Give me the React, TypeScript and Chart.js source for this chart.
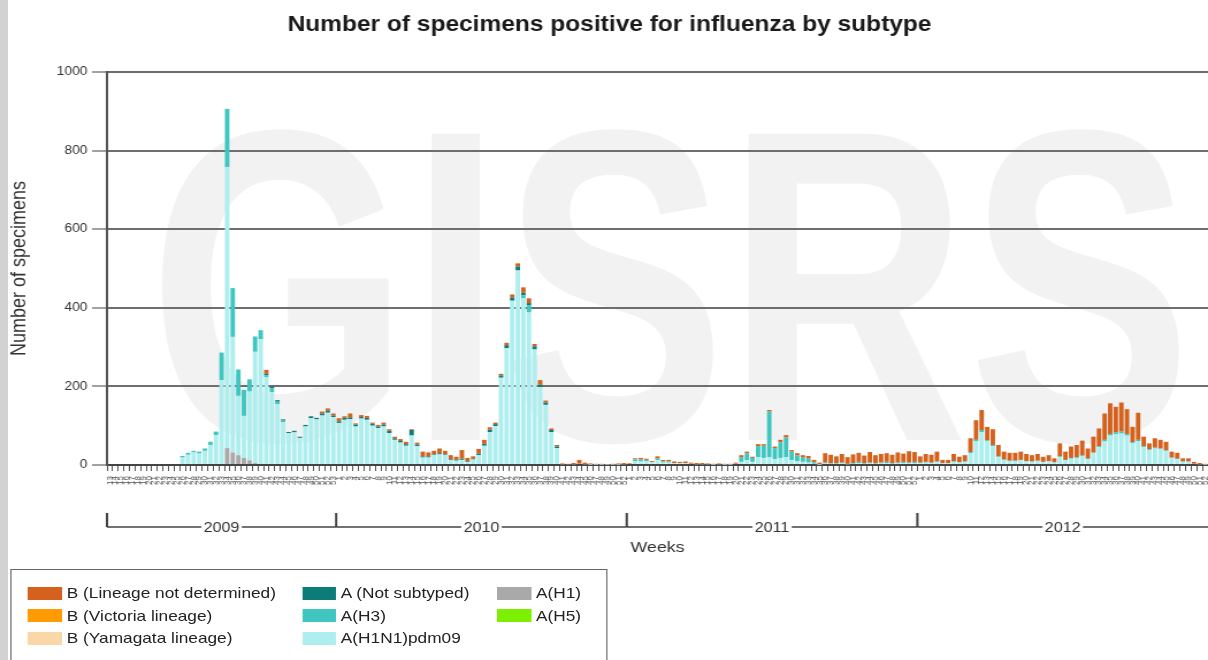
import React, { useEffect, useRef } from "react";
import { Chart, registerables } from "chart.js";

Chart.register(...registerables);

// ---------------- DATA ----------------
const years = ["2009", "2010", "2011", "2012"];
const weeks2009 = [13,14,15,16,17,18,19,20,21,22,23,24,25,26,27,28,29,30,31,32,33,34,35,36,37,38,39,40,41,42,43,44,45,46,47,48,49,50,51,52,53];
const weeks2010 = [1,2,3,4,5,6,7,8,9,10,11,12,13,14,15,16,17,18,19,20,21,22,23,24,25,26,27,28,29,30,31,32,33,34,35,36,37,38,39,40,41,42,43,44,45,46,47,48,49,50,51,52];
const weeks2011 = [1,2,3,4,5,6,7,8,9,10,11,12,13,14,15,16,17,18,19,20,21,22,23,24,25,26,27,28,29,30,31,32,33,34,35,36,37,38,39,40,41,42,43,44,45,46,47,48,49,50,51,52];
const weeks2012 = [1,2,3,4,5,6,7,8,9,10,11,12,13,14,15,16,17,18,19,20,21,22,23,24,25,26,27,28,29,30,31,32,33,34,35,36,37,38,39,40,41,42,43,44,45,46,47,48,49,50,51,52];
const weeksByYear = [weeks2009, weeks2010, weeks2011, weeks2012];

// A(H1N1)pdm09
const aH1N1pdm09 = [
  // 2009
  0,0,0,0,0,0,0,0,0,0,0,0,0, 19,26,32,29,36,51,76, 216,715,294,151,107,175,283,320,223,185, 155,109,81,83,69,98,119,116,126,133, 122,
  // 2010
  107,115,117,98,118,115,100,94,98,81, 64,57,49,75,48,19,19,26,27,26, 13,11,13,8,14,25,49,84,99,222, 297,418,495,424,388,294,198,153,84,43, 2,2,2,3,2,1,1,1,1,1, 1,2,
  // 2011
  3,10,9,9,7,12,6,6,5,5, 5,3,2,2,2,1,2,1,1,3, 8,12,8,20,18,20,15,18,20,12, 10,8,6,3,1, 4,3,3,4,2,3,5,3,4,3,4,5,3,4,5,4,5,
  // 2012
  5,6,5,7,4,4,8,6,8,30, 60,84,60,48,20,12,10,10,12,9, 8,10,7,9,6,20,12,16,18,22, 15,30,45,60,75,78,80,75,55,60, 45,38,42,40,35,18,15,8,8,3, 2,1,
];

// A(H3)
const aH3 = [
  // 2009
  0,0,0,0,0,0,0,0,0,0,0,0,0, 4,5,4,5,6,8,9, 70,148,124,67,66,31,39,23,5,10, 6,4,0,0,0,0,0,0,0,0, 0,
  // 2010
  0,0,0,0,0,0,0,0,0,0, 0,0,0,0,0,0,0,0,0,0, 0,0,0,0,0,0,0,0,0,0, 0,0,0,8,18,0,0,0,0,0, 0,0,0,0,0,0,0,0,0,0, 0,0,
  // 2011
  0,4,5,4,0,5,3,3, 0,0,0,0,0,0,0,0,0,0,0,0, 12,18,10,28,31,116,28,40,50,22,14,12,10,4,1, 2,1,2,2,1,2,3,2,2,1,2,3,2,2,3,2,3,
  // 2012
  1,2,1,2,1,1,2,1,2,3, 4,5,3,3,2,2,1,1,1,1, 1,1,1,1,1,2,1,2,2,2, 1,2,3,4,4,5,5,4,3,4, 3,2,2,2,2,1,1,1,1,0, 0,0,
];

// A (Not subtyped)
const aNotSubtyped = [
  // 2009
  0,0,0,0,0,0,0,0,0,0,0,0,0,0,0,0,0,0,0,0,0,0,0,0,0,0,0,0, 4,4,4,3,3,4,3,4,5,4,5,5,4,
  // 2010
  4,5,4,5,4,5,5,4,5,6, 4,4,4,14,4,3,3,2,3,2, 2,2,3,2,2,4,5,6,5,6, 8,8,10,6,6,8,6,6,5,4, 0,0,0,0,0,0,0,0,0,0, 0,0,
  // 2011
  0,0,0,0,0,0,0,0,0,0, 0,0,0,0,0,0,0,0,0,0, 0,0,0,0,0,0,0,0,0,0, 0,0,0,0,0,0,0,0,0,0, 0,0,0,0,0,0,0,0,0,0, 0,0,
  // 2012
  0,0,0,0,0,0,0,0,0,0, 0,0,0,0,0,0,0,0,0,0, 0,0,0,0,0,0,0,0,0,0, 0,0,0,0,0,0,0,0,0,0, 0,0,0,0,0,0,0,0,0,0, 0,0,
];

// A(H1)
const aH1 = [
  // 2009
  0,0,0,0,0,0,0,0,0,0,0,0,0,0,0,0,0,0,0,0,0, 43,32,25,18,12,5, 0,0,0,0,0,0,0,0,0,0,0,0,0,0,
  // 2010
  0,0,0,0,0,0,0,0,0,0, 0,0,0,0,0,0,0,0,0,0, 0,0,0,0,0,0,0,0,0,0, 0,0,0,0,0,0,0,0,0,0, 0,0,0,0,0,0,0,0,0,0, 0,0,
  // 2011
  0,0,0,0,0,0,0,0,0,0, 0,0,0,0,0,0,0,0,0,0, 0,0,0,0,0,0,0,0,0,0, 0,0,0,0,0,0,0,0,0,0, 0,0,0,0,0,0,0,0,0,0, 0,0,
  // 2012
  0,0,0,0,0,0,0,0,0,0, 0,0,0,0,0,0,0,0,0,0, 0,0,0,0,0,0,0,0,0,0, 0,0,0,0,0,0,0,0,0,0, 0,0,0,0,0,0,0,0,0,0, 0,0,
];

// A(H5)
const aH5 = [
  0,0,0,0,0,0,0,0,0,0,0,0,0,0,0,0,0,0,0,0,0,0,0,0,0,0,0,0,0,0,0,0,0,0,0,0,0,0,0,0,0,
  0,0,0,0,0,0,0,0,0,0, 0,0,0,0,0,0,0,0,0,0, 0,0,0,0,0,0,0,0,0,0, 0,0,0,0,0,0,0,0,0,0, 0,0,0,0,0,0,0,0,0,0, 0,0,
  0,0,0,0,0,0,0,0,0,0, 0,0,0,0,0,0,0,0,0,0, 0,0,0,0,0,0,0,0,0,0, 0,0,0,0,0,0,0,0,0,0, 0,0,0,0,0,0,0,0,0,0, 0,0,
  0,0,0,0,0,0,0,0,0,0, 0,0,0,0,0,0,0,0,0,0, 0,0,0,0,0,0,0,0,0,0, 0,0,0,0,0,0,0,0,0,0, 0,0,0,0,0,0,0,0,0,0, 0,0,
];

// B (Lineage not determined)
const bNotDetermined = [
  // 2009
  0,0,0,0,0,0,0,0,0,0,0,0,0,0,0,0,0,0,0,0,0,0,0,0,0,0,0,0, 10, 0,0,0,0,0,0,0,0,0, 5,6,5,
  // 2010
  8,4,10,3,5,5,3,4,5,4, 4,5,6,2,5,12,10,8,12,8, 10,8,22,8,6,12,10,6,4,4, 6,8,8,14,12,6,12,5,4,4, 2,1,3,10,4,3,2,2,1,2, 3,3,
  // 2011
  2,3,4,3,3,5,4,4,4,3, 4,3,3,3,2,2,2,2,2,3, 5,4,3,5,4,4,4,6,6,4, 6,5,7,6,4, 24,22,17,22,17,22,23,19,27,21,22,22,21,26,21,29,25,
  // 2012
  16,20,20,25,8,8,18,14,15,35, 50,51,34,40,29,20,20,20,21,18, 16,17,13,15,10,33,21,29,31,38, 26,40,45,67,78,65,74,63,39,69, 24,15,24,22,22,15,15,8,8,5, 3,2,
];

// B (Victoria lineage)
const bVictoria = [
  0,0,0,0,0,0,0,0,0,0,0,0,0,0,0,0,0,0,0,0,0,0,0,0,0,0,0,0,0,0,0,0,0,0,0,0,0,0,0,0,0,
  0,0,0,0,0,0,0,0,0,0, 0,0,0,0,0,0,0,0,0,0, 0,0,0,0,0,0,0,0,0,0, 0,0,0,0,0,0,0,0,0,0, 0,0,0,0,0,0,0,0,0,0, 0,0,
  0,0,0,0,0,0,0,0,0,0, 0,0,0,0,0,0,0,0,0,0, 0,0,0,0,0,0,0,0,0,0, 0,0,0,0,0,0,0,0,0,0, 0,0,0,0,0,0,0,0,0,0, 0,0,
  0,0,0,0,0,0,0,0,0,0, 0,0,0,0,0,0,0,0,0,0, 0,0,0,0,0,0,0,0,0,0, 0,0,0,0,0,0,0,0,0,0, 0,0,0,0,0,0,0,0,0,0, 0,0,
];

// B (Yamagata lineage)
const bYamagata = [
  0,0,0,0,0,0,0,0,0,0,0,0,0,0,0,0,0,0,0,0,0,0,0,0,0,0,0,0,0,0,0,0,0,0,0,0,0,0,0,0,0,
  0,0,0,0,0,0,0,0,0,0, 0,0,0,0,0,0,0,0,0,0, 0,0,0,0,0,0,0,0,0,0, 0,0,0,0,0,0,0,0,0,0, 0,0,0,0,0,0,0,0,0,0, 0,0,
  0,0,0,0,0,0,0,0,0,0, 0,0,0,0,0,0,0,0,0,0, 0,0,0,0,0,0,0,0,0,0, 0,0,0,0,0,0,0,0,0,0, 0,0,0,0,0,0,0,0,0,0, 0,0,
  0,0,0,0,0,0,0,0,0,0, 0,0,0,0,0,0,0,0,0,0, 0,0,0,0,0,0,0,0,0,0, 0,0,0,0,0,0,0,0,0,0, 0,0,0,0,0,0,0,0,0,0, 0,0,
];

const yTicks = [0, 200, 400, 600, 800, 1000];

const TITLE = "Number of specimens positive for influenza by subtype";
const Y_TITLE = "Number of specimens";
const X_TITLE = "Weeks";
const WATERMARK = "GISRS";

// series in stacking order (bottom -> top)
const series = [
  { key: "h1", label: "A(H1)", data: aH1, color: "#a9a9a9" },
  { key: "pdm", label: "A(H1N1)pdm09", data: aH1N1pdm09, color: "#aeeeee" },
  { key: "h3", label: "A(H3)", data: aH3, color: "#3fc6c0" },
  { key: "h5", label: "A(H5)", data: aH5, color: "#7cf000" },
  { key: "ns", label: "A (Not subtyped)", data: aNotSubtyped, color: "#0b7c78" },
  { key: "bnd", label: "B (Lineage not determined)", data: bNotDetermined, color: "#d4621e" },
  { key: "bvic", label: "B (Victoria lineage)", data: bVictoria, color: "#ff9a00" },
  { key: "byam", label: "B (Yamagata lineage)", data: bYamagata, color: "#fad7a6" },
];
// legend order (column-major, 3 rows)
const legendOrder = ["bnd", "bvic", "byam", "ns", "h3", "pdm", "h1", "h5"];

// ---------------- LAYOUT ----------------
const FINAL_W = 1208;
const H = 660;
const W = 1050;
const SX = FINAL_W / W;
const FONT = "'Liberation Sans', Arial, Helvetica, sans-serif";

const labels: string[] = [];
weeksByYear.forEach((ws) => ws.forEach((w) => labels.push(String(w))));

const watermarkPlugin = {
  id: "watermark",
  beforeDraw(chart: any) {
    const { ctx, chartArea } = chart;
    ctx.save();
    ctx.fillStyle = "#f2f2f2";
    ctx.font = `bold 445px ${FONT}`;
    ctx.textBaseline = "alphabetic";
    const w = ctx.measureText(WATERMARK).width;
    const left = chartArea.left + 36;
    const target = chartArea.right - 14 - left;
    ctx.translate(left, chartArea.bottom - 25);
    ctx.scale(target / w, 1);
    ctx.fillText(WATERMARK, 0, 0);
    ctx.restore();
  },
};

const yearPlugin = {
  id: "years",
  afterDraw(chart: any) {
    const { ctx, chartArea } = chart;
    const xs = chart.scales.x;
    const n = labels.length;
    const boundary = (k: number) => {
      if (k <= 0) return chartArea.left;
      if (k >= n) return chartArea.right;
      return (xs.getPixelForValue(k - 1) + xs.getPixelForValue(k)) / 2;
    };
    const yLine = chartArea.bottom + 62;
    const yTop = chartArea.bottom + 48;
    ctx.save();
    ctx.font = `14px ${FONT}`;
    ctx.fillStyle = "#333";
    ctx.textAlign = "center";
    ctx.textBaseline = "middle";
    let start = 0;
    weeksByYear.forEach((ws, yi) => {
      const x0 = boundary(start);
      const x1 = boundary(start + ws.length);
      const cx = (x0 + x1) / 2;
      const tw = ctx.measureText(years[yi]).width;
      ctx.strokeStyle = "#444";
      ctx.lineWidth = 1.3;
      ctx.beginPath();
      ctx.moveTo(x0, yLine);
      ctx.lineTo(cx - tw / 2 - 2, yLine);
      ctx.moveTo(cx + tw / 2 + 2, yLine);
      ctx.lineTo(x1, yLine);
      ctx.stroke();
      ctx.lineWidth = 2;
      ctx.beginPath();
      ctx.moveTo(x0, yTop);
      ctx.lineTo(x0, yLine);
      ctx.stroke();
      ctx.fillText(years[yi], cx, yLine + 1);
      start += ws.length;
    });
    ctx.restore();
  },
};

export default function App() {
  const ref = useRef<HTMLCanvasElement>(null);

  useEffect(() => {
    if (!ref.current) return;
    Chart.defaults.font.family = FONT;
    const chart = new Chart(ref.current, {
      type: "bar",
      data: {
        labels,
        datasets: series.map((s) => ({
          label: s.label,
          data: s.data,
          backgroundColor: s.color,
          borderWidth: 0,
          barPercentage: 0.8,
          categoryPercentage: 1.0,
        })),
      },
      options: {
        responsive: false,
        animation: false,
        layout: { padding: { left: 9.6, right: 0, top: 0, bottom: 100 } },
        plugins: {
          legend: { display: false },
          tooltip: { enabled: false },
          title: {
            display: true,
            text: TITLE,
            color: "#1a1a1a",
            font: { size: 21.3, weight: "bold", family: FONT },
            padding: { top: 12, bottom: 34.4 },
          },
        },
        scales: {
          x: {
            stacked: true,
            grid: {
              display: true,
              drawOnChartArea: false,
              drawTicks: true,
              tickLength: 6,
              tickColor: "#555",
              tickWidth: 1,
            },
            border: { display: true, color: "#444", width: 2 },
            ticks: {
              autoSkip: false,
              maxRotation: 90,
              minRotation: 90,
              font: { size: 8, family: FONT },
              color: "#555",
              padding: 5,
            },
            title: {
              display: true,
              text: X_TITLE,
              color: "#333",
              font: { size: 15.5, family: FONT },
              padding: { top: 0, bottom: 3 },
            },
            afterFit: (s: any) => {
              s.height = 95;
              s.paddingLeft = 0;
              s.paddingRight = 0;
            },
          },
          y: {
            stacked: true,
            min: 0,
            max: 1000,
            afterBuildTicks: (s: any) => {
              s.ticks = yTicks.map((v) => ({ value: v }));
            },
            ticks: {
              color: "#333",
              font: { size: 12, family: FONT },
              padding: 4,
              callback: (v: any) => String(v),
            },
            grid: {
              color: "#6e6e6e",
              lineWidth: 2,
              drawTicks: true,
              tickLength: 13,
              tickColor: "#444",
              tickWidth: 1,
            },
            border: { display: true, color: "#555", width: 2 },
            title: {
              display: true,
              text: Y_TITLE,
              color: "#333",
              font: { size: 18, family: FONT },
              padding: { top: -3, bottom: 0 },
            },
            afterFit: (s: any) => {
              s.width = 83.4;
            },
          },
        },
      },
      plugins: [watermarkPlugin, yearPlugin],
    } as any);
    return () => chart.destroy();
  }, []);

  const byKey: Record<string, any> = {};
  series.forEach((s) => (byKey[s.key] = s));
  const colX = [14.8, 253, 422.6];
  const rowY = [23, 45.5, 68];

  return (
    <div
      style={{
        position: "fixed",
        left: 0,
        top: 0,
        width: FINAL_W,
        height: H,
        overflow: "hidden",
        background: "#ffffff",
      }}
    >
      <div
        style={{
          position: "absolute",
          left: 0,
          top: 0,
          width: W,
          height: H,
          transform: `scaleX(${SX})`,
          transformOrigin: "0 0",
        }}
      >
        <canvas ref={ref} width={W} height={H} style={{ display: "block", width: W, height: H }} />
        <div
          style={{
            position: "absolute",
            left: 8.7,
            top: 569,
            width: 519,
            height: 110,
            border: "1px solid #666",
            boxSizing: "border-box",
            fontFamily: FONT,
            fontSize: 15,
            color: "#222",
          }}
        >
          {legendOrder.map((k, idx) => {
            const s = byKey[k];
            const col = Math.floor(idx / 3);
            const row = idx % 3;
            return (
              <div
                key={k}
                style={{
                  position: "absolute",
                  left: colX[col],
                  top: rowY[row] - 9,
                  height: 18,
                  display: "flex",
                  alignItems: "center",
                  whiteSpace: "nowrap",
                }}
              >
                <span
                  style={{
                    display: "inline-block",
                    width: 29.6,
                    height: 13,
                    background: s.color,
                    marginRight: 4,
                  }}
                />
                <span style={{ lineHeight: "18px" }}>{s.label}</span>
              </div>
            );
          })}
        </div>
      </div>
      <div
        style={{
          position: "absolute",
          left: 0,
          top: 0,
          width: 8,
          height: H,
          background: "#d2d2d2",
        }}
      />
    </div>
  );
}
